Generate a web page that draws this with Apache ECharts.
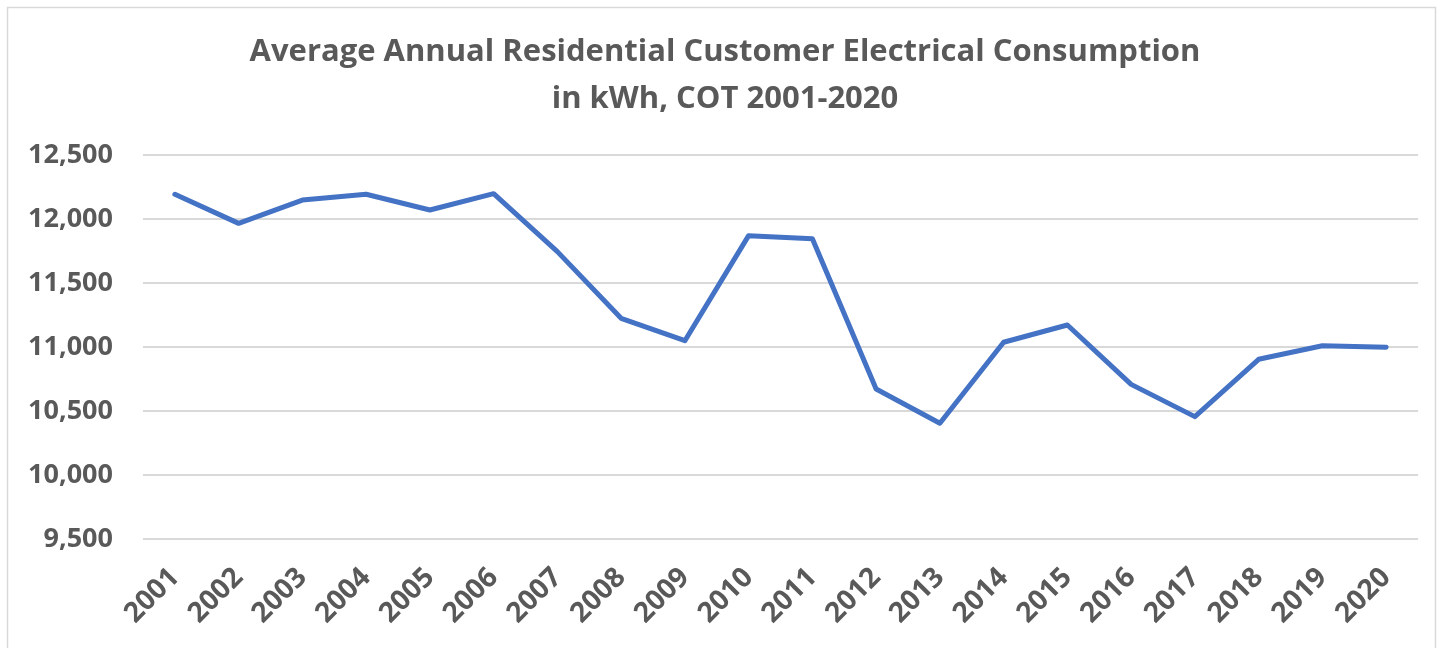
<!DOCTYPE html>
<html>
<head>
<meta charset="utf-8">
<script src="https://cdn.jsdelivr.net/npm/echarts@6/dist/echarts.min.js"></script>
<style>html,body{margin:0;padding:0;background:#fff;}#c{width:1450px;height:648px;}</style>
</head>
<body>
<div id="c"></div>
<script>
const years = ['2001','2002','2003','2004','2005','2006','2007','2008','2009','2010','2011','2012','2013','2014','2015','2016','2017','2018','2019','2020'];
const consumption = [12193,11966,12148,12193,12070,12198,11745,11224,11049,11870,11846,10672,10404,11037,11172,10708,10456,10904,11010,10998];
const titleLines = ['Average Annual Residential Customer Electrical Consumption','in kWh, COT 2001-2020'];
const yMin = 9500, yMax = 12500, yStep = 500;

const chart = echarts.init(document.getElementById('c'), null, {renderer:'canvas'});
const FONT = '"Open Sans", sans-serif';
const titleStyle = {fontFamily:FONT,fontWeight:'bold',fontSize:31,color:'#595959'};
chart.setOption({
  animation:false,
  backgroundColor:'#fff',
  graphic:[{type:'rect',shape:{x:7.5,y:7.5,width:1428,height:660},style:{fill:'none',stroke:'#d9d9d9',lineWidth:1.5},silent:true}],
  title:[
    {text:titleLines[0], left:'center', top:37, padding:0, textStyle:titleStyle},
    {text:titleLines[1], left:'center', top:84, padding:0, textStyle:titleStyle}
  ],
  grid:{left:143,right:32,top:155,bottom:109,containLabel:false},
  xAxis:{
    type:'category', data:years, boundaryGap:true,
    axisLine:{show:false}, axisTick:{show:false},
    axisLabel:{rotate:45,margin:34,fontFamily:FONT,fontWeight:'bold',fontSize:28,color:'#595959',interval:0}
  },
  yAxis:{
    type:'value', min:yMin, max:yMax, interval:yStep,
    axisLine:{show:false}, axisTick:{show:false},
    splitLine:{lineStyle:{color:'#d9d9d9',width:2}},
    axisLabel:{margin:30,fontFamily:FONT,fontWeight:'bold',fontSize:27,color:'#595959',
      formatter:v=>v.toLocaleString('en-US')}
  },
  series:[{
    type:'line', data:consumption, symbol:'none',
    lineStyle:{color:'#4472C4',width:5,cap:'round',join:'round'}
  }]
});
</script>
</body>
</html>
